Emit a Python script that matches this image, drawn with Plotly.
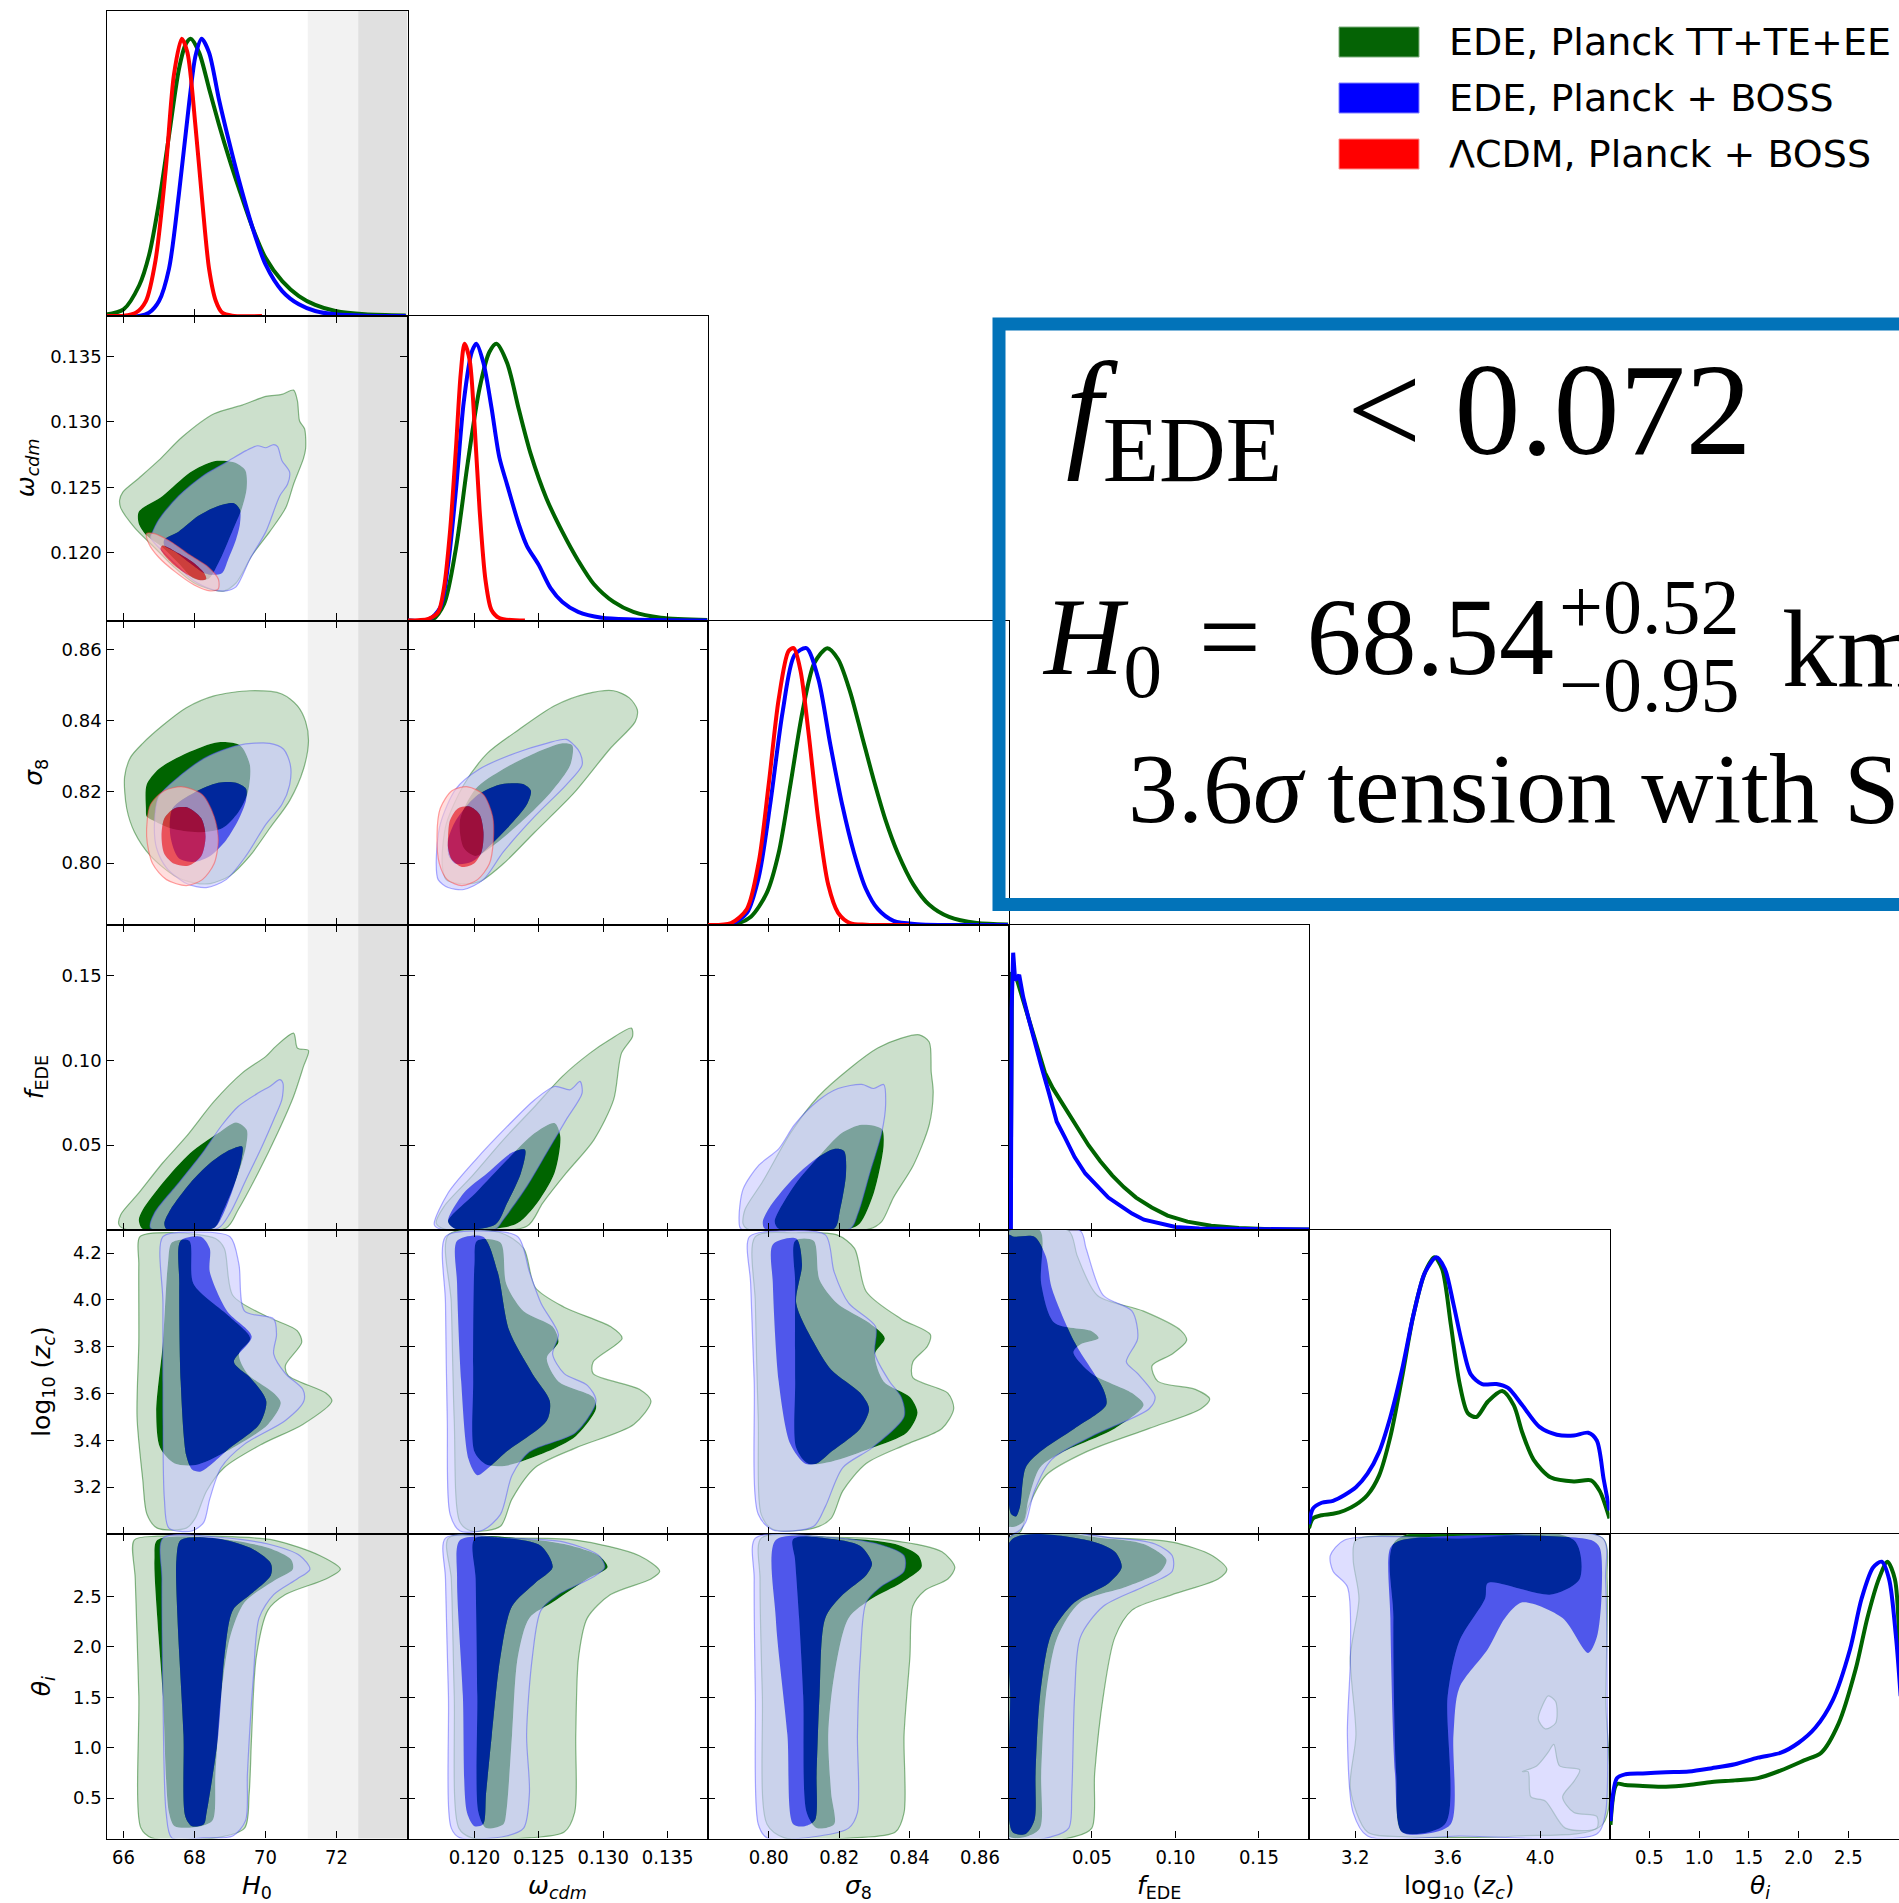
import plotly.graph_objects as go

# ====================== DATA ======================
# ---- 1D marginal posteriors (normalised to peak = 1) ----
H0_green_x = [65.5, 66.0, 66.44, 66.72, 67.0, 67.28, 67.56, 67.75, 67.89, 68.13, 68.41, 68.69, 68.97, 69.25, 69.63, 70.0, 70.47, 70.94, 71.4, 71.97, 72.8, 73.95]
H0_green_p = [0.005, 0.024, 0.11, 0.22, 0.41, 0.65, 0.89, 0.98, 1.0, 0.95, 0.82, 0.69, 0.57, 0.46, 0.32, 0.21, 0.126, 0.072, 0.04, 0.018, 0.006, 0.002]
H0_blue_x = [65.5, 66.44, 66.72, 67.0, 67.28, 67.56, 67.85, 68.03, 68.2, 68.41, 68.69, 68.97, 69.25, 69.63, 70.0, 70.47, 70.94, 71.4, 71.97, 72.8, 73.95]
H0_blue_p = [0.0, 0.0, 0.012, 0.054, 0.17, 0.44, 0.77, 0.94, 1.0, 0.95, 0.78, 0.63, 0.49, 0.32, 0.186, 0.09, 0.042, 0.018, 0.006, 0.001, 0.0]
H0_red_x = [65.5, 66.0, 66.35, 66.63, 66.9, 67.19, 67.42, 67.64, 67.8, 68.03, 68.22, 68.41, 68.6, 68.78, 69.06, 69.9]
H0_red_p = [0.0, 0.001, 0.012, 0.054, 0.2, 0.53, 0.87, 1.0, 0.95, 0.68, 0.41, 0.17, 0.054, 0.012, 0.001, 0.0]

om_green_x = [0.1148, 0.11672, 0.11764, 0.11856, 0.11948, 0.1204, 0.12116, 0.12171, 0.12254, 0.12346, 0.12438, 0.1256, 0.12683, 0.12805, 0.12928, 0.13081, 0.13234, 0.13448, 0.1381]
om_green_p = [0.0, 0.003, 0.06, 0.26, 0.57, 0.84, 0.97, 1.0, 0.93, 0.76, 0.6, 0.44, 0.32, 0.217, 0.131, 0.067, 0.031, 0.01, 0.002]
om_blue_x = [0.1148, 0.11642, 0.11734, 0.11795, 0.11856, 0.11917, 0.11979, 0.12015, 0.1207, 0.12132, 0.12193, 0.12254, 0.12346, 0.12407, 0.125, 0.12591, 0.12683, 0.12805, 0.12989, 0.13234, 0.1381]
om_blue_p = [0.0, 0.003, 0.046, 0.2, 0.47, 0.79, 0.97, 1.0, 0.93, 0.77, 0.59, 0.49, 0.345, 0.27, 0.2, 0.117, 0.067, 0.031, 0.01, 0.004, 0.0]
om_red_x = [0.1148, 0.11642, 0.11718, 0.11764, 0.1181, 0.11856, 0.11893, 0.11923, 0.11963, 0.12003, 0.1204, 0.12086, 0.12132, 0.12193, 0.12392]
om_red_p = [0.0, 0.006, 0.03, 0.12, 0.32, 0.62, 0.89, 1.0, 0.94, 0.69, 0.40, 0.145, 0.038, 0.009, 0.0]

s8_green_x = [0.7826, 0.79043, 0.79493, 0.79944, 0.80281, 0.80619, 0.80957, 0.81294, 0.81666, 0.8197, 0.82307, 0.82645, 0.82982, 0.8332, 0.83658, 0.84108, 0.84558, 0.85121, 0.85909, 0.868]
s8_green_p = [0.0, 0.003, 0.03, 0.116, 0.26, 0.51, 0.77, 0.946, 1.0, 0.96, 0.844, 0.684, 0.524, 0.378, 0.262, 0.146, 0.073, 0.029, 0.007, 0.002]
s8_blue_x = [0.7826, 0.7893, 0.7938, 0.79719, 0.80056, 0.80394, 0.80732, 0.81069, 0.81407, 0.81744, 0.82082, 0.82419, 0.82757, 0.83095, 0.83545, 0.8422, 0.868]
s8_blue_p = [0.0, 0.003, 0.044, 0.175, 0.45, 0.77, 0.975, 1.0, 0.89, 0.655, 0.437, 0.262, 0.131, 0.058, 0.015, 0.003, 0.0]
s8_red_x = [0.7826, 0.7893, 0.7938, 0.79719, 0.8, 0.80281, 0.80563, 0.80709, 0.809, 0.81125, 0.81407, 0.81688, 0.8197, 0.82307, 0.8276, 0.84]
s8_red_p = [0.0, 0.007, 0.058, 0.23, 0.51, 0.815, 0.99, 1.0, 0.92, 0.70, 0.38, 0.146, 0.044, 0.007, 0.001, 0.0]

f_green_x = [0.0012, 0.0021, 0.0052, 0.01, 0.0159, 0.0218, 0.0266, 0.0337, 0.0408, 0.0479, 0.055, 0.0621, 0.0692, 0.0764, 0.0858, 0.0953, 0.1072, 0.1214, 0.138, 0.157, 0.18]
f_green_p = [0.0, 0.93, 0.9, 0.8, 0.683, 0.567, 0.51, 0.443, 0.37, 0.305, 0.247, 0.196, 0.153, 0.116, 0.08, 0.051, 0.029, 0.0145, 0.006, 0.0015, 0.001]
f_blue_x = [0.0014, 0.0019, 0.0028, 0.004, 0.0064, 0.0088, 0.0123, 0.0159, 0.0194, 0.0242, 0.0289, 0.0337, 0.0396, 0.046, 0.0526, 0.0598, 0.0669, 0.074, 0.0811, 0.0906, 0.1001, 0.1143, 0.18]
f_blue_p = [0.0, 0.8, 1.0, 0.9, 0.92, 0.84, 0.756, 0.67, 0.596, 0.494, 0.39, 0.334, 0.262, 0.203, 0.16, 0.116, 0.087, 0.058, 0.036, 0.022, 0.01, 0.004, 0.001]

lz_green_x = [3.0, 3.017, 3.055, 3.104, 3.154, 3.203, 3.253, 3.303, 3.352, 3.402, 3.451, 3.501, 3.543, 3.576, 3.613, 3.65, 3.687, 3.724, 3.774, 3.836, 3.886, 3.923, 3.972, 4.047, 4.146, 4.22, 4.258, 4.3]
lz_green_p = [0.021, 0.056, 0.068, 0.073, 0.085, 0.106, 0.141, 0.211, 0.352, 0.563, 0.789, 0.944, 1.0, 0.958, 0.76, 0.55, 0.437, 0.423, 0.479, 0.517, 0.465, 0.366, 0.268, 0.204, 0.19, 0.194, 0.155, 0.056]
lz_blue_x = [3.0, 3.017, 3.055, 3.104, 3.154, 3.203, 3.253, 3.303, 3.352, 3.402, 3.451, 3.501, 3.551, 3.588, 3.625, 3.662, 3.7, 3.749, 3.811, 3.861, 3.923, 3.997, 4.072, 4.146, 4.208, 4.245, 4.275, 4.3]
lz_blue_p = [0.035, 0.092, 0.113, 0.12, 0.141, 0.169, 0.218, 0.296, 0.423, 0.592, 0.789, 0.944, 1.0, 0.958, 0.831, 0.69, 0.577, 0.542, 0.542, 0.528, 0.465, 0.387, 0.359, 0.356, 0.366, 0.338, 0.197, 0.085]

th_green_x = [0.11, 0.175, 0.262, 0.435, 0.667, 0.898, 1.129, 1.36, 1.592, 1.823, 2.055, 2.228, 2.402, 2.575, 2.691, 2.806, 2.893, 2.968, 3.015]
th_green_p = [0.049, 0.197, 0.193, 0.19, 0.187, 0.193, 0.204, 0.21, 0.218, 0.246, 0.282, 0.31, 0.415, 0.613, 0.796, 0.937, 1.0, 0.937, 0.655]
th_blue_x = [0.11, 0.175, 0.262, 0.435, 0.667, 0.898, 1.129, 1.36, 1.592, 1.823, 1.997, 2.17, 2.344, 2.517, 2.633, 2.749, 2.835, 2.91, 2.98, 3.026]
th_blue_p = [0.063, 0.218, 0.232, 0.235, 0.239, 0.242, 0.254, 0.268, 0.292, 0.31, 0.345, 0.401, 0.5, 0.683, 0.866, 0.979, 1.0, 0.937, 0.725, 0.514]

# ---- 2D credible contours (x, y) : G = EDE Planck, B = EDE Planck+BOSS, R = LCDM ; 2 = 95%, 1 = 68% ----
H0_om_G2 = [(65.89,0.12402),(65.98,0.12463),(66.43,0.12569),(66.99,0.12705),(67.66,0.12886),(68.55,0.13062),(69.34,0.13128),(70.01,0.13195),(70.46,0.1321),(70.79,0.13243),(70.9,0.13159),(70.96,0.13007),(71.1,0.12947),(71.13,0.12796),(71.07,0.1272),(70.79,0.12523),(70.57,0.12342),(70.12,0.1216),(69.62,0.11979),(69.17,0.11767),(68.83,0.11707),(68.55,0.11713),(67.99,0.11767),(67.43,0.11888),(66.87,0.12039),(66.31,0.12191),(65.92,0.12342)]
H0_om_G1 = [(66.43,0.12312),(67.10,0.12433),(67.88,0.12614),(68.55,0.12699),(69.11,0.1269),(69.43,0.12629),(69.47,0.12493),(69.34,0.12342),(69.06,0.1216),(68.67,0.11918),(68.39,0.11797),(67.99,0.11797),(67.55,0.11918),(67.10,0.12039),(66.65,0.1213),(66.43,0.12221)]
H0_om_B2 = [(66.82,0.1216),(66.99,0.12251),(67.55,0.12433),(68.22,0.12584),(68.89,0.1269),(69.45,0.1278),(69.78,0.12817),(70.01,0.12802),(70.23,0.12826),(70.34,0.12811),(70.46,0.12705),(70.68,0.12614),(70.62,0.12523),(70.4,0.12433),(70.01,0.1216),(69.56,0.11949),(69.17,0.11737),(68.89,0.11707),(68.55,0.11713),(67.99,0.11782),(67.43,0.11918),(66.99,0.12039),(66.76,0.12115)]
H0_om_B1 = [(67.15,0.1210),(67.55,0.1216),(68.11,0.12281),(68.67,0.12357),(69.11,0.12378),(69.28,0.12327),(69.28,0.12221),(69.17,0.121),(68.95,0.11949),(68.78,0.11843),(68.55,0.11828),(68.27,0.11843),(67.88,0.11918),(67.43,0.12009),(67.15,0.12054)]
H0_om_R2 = [(66.65,0.12145),(66.87,0.12145),(67.32,0.12085),(67.88,0.11979),(68.39,0.11888),(68.67,0.11797),(68.67,0.11722),(68.44,0.11707),(67.99,0.11752),(67.43,0.11858),(66.99,0.11964),(66.71,0.1207)]
H0_om_R1 = [(67.1,0.12054),(67.55,0.11994),(67.99,0.11918),(68.27,0.11843),(68.33,0.11797),(68.16,0.11788),(67.82,0.11828),(67.43,0.11903),(67.15,0.11979),(67.04,0.1203)]

H0_s8_G2 = [(66.03,0.82418),(66.2,0.82973),(66.54,0.83361),(67.1,0.8386),(67.77,0.84359),(68.55,0.84692),(69.56,0.84837),(70.46,0.84748),(70.9,0.84415),(71.13,0.83971),(71.21,0.83417),(71.07,0.8264),(70.68,0.81753),(70.12,0.80976),(69.56,0.802),(69.0,0.79645),(68.44,0.79423),(67.99,0.79445),(67.43,0.79645),(66.76,0.802),(66.31,0.80865),(66.09,0.81531)]
H0_s8_G1 = [(66.63,0.81531),(66.65,0.82196),(66.99,0.8264),(67.77,0.83084),(68.67,0.83394),(69.28,0.83306),(69.56,0.82751),(69.5,0.81975),(69.23,0.8142),(68.78,0.80976),(68.11,0.80865),(67.32,0.80976),(66.82,0.81198),(66.65,0.81309)]
H0_s8_B2 = [(66.87,0.81087),(66.99,0.81864),(67.55,0.82418),(68.33,0.82973),(69.23,0.83306),(70.12,0.83361),(70.51,0.83195),(70.7,0.82751),(70.68,0.82196),(70.46,0.81642),(70.01,0.81087),(69.45,0.802),(68.89,0.79534),(68.33,0.79312),(67.77,0.79423),(67.21,0.79867),(66.93,0.80422)]
H0_s8_B1 = [(67.38,0.81531),(67.99,0.81975),(68.67,0.82252),(69.17,0.82252),(69.45,0.82085),(69.45,0.81753),(69.23,0.81198),(68.89,0.80643),(68.44,0.802),(67.99,0.80033),(67.55,0.80144),(67.32,0.80754)]
H0_s8_R2 = [(66.65,0.80754),(66.76,0.81642),(67.15,0.8203),(67.66,0.82141),(68.22,0.81919),(68.55,0.81309),(68.67,0.80643),(68.55,0.79978),(68.22,0.79534),(67.77,0.79368),(67.21,0.79534),(66.82,0.79978)]
H0_s8_R1 = [(67.07,0.80754),(67.15,0.81254),(67.43,0.81531),(67.82,0.81553),(68.19,0.81254),(68.31,0.80754),(68.19,0.802),(67.82,0.79922),(67.43,0.79978),(67.15,0.80255)]

om_s8_G2 = [(0.11749,0.79978),(0.1178,0.81087),(0.11917,0.82196),(0.12101,0.83084),(0.12346,0.83749),(0.12622,0.84415),(0.12866,0.84748),(0.13081,0.84837),(0.13203,0.84637),(0.13265,0.84304),(0.13249,0.83971),(0.1305,0.83195),(0.12775,0.81975),(0.12468,0.80865),(0.12224,0.79978),(0.1204,0.79479),(0.11887,0.79423),(0.1178,0.79534)]
om_s8_G1 = [(0.11887,0.81198),(0.12009,0.82085),(0.12224,0.8264),(0.12468,0.83084),(0.12683,0.83361),(0.1276,0.83306),(0.12744,0.82751),(0.12591,0.81975),(0.12377,0.81198),(0.12162,0.80532),(0.12009,0.802),(0.11917,0.80422)]
om_s8_B2 = [(0.11703,0.79978),(0.11734,0.81087),(0.11856,0.82085),(0.1204,0.8264),(0.12315,0.83084),(0.1256,0.83361),(0.12713,0.83472),(0.12775,0.83306),(0.12821,0.83084),(0.12836,0.82751),(0.12713,0.82196),(0.12468,0.81309),(0.12224,0.80311),(0.1207,0.79534),(0.11917,0.79257),(0.11795,0.79312),(0.11718,0.79534)]
om_s8_B1 = [(0.11795,0.80643),(0.11856,0.81198),(0.12009,0.81864),(0.12193,0.82196),(0.12377,0.82218),(0.12438,0.8203),(0.12407,0.81642),(0.12254,0.80976),(0.12101,0.80422),(0.11979,0.80033),(0.11856,0.79978),(0.11801,0.802)]
om_s8_R2 = [(0.11709,0.80754),(0.11734,0.81531),(0.11825,0.8203),(0.11948,0.82141),(0.1207,0.81919),(0.12141,0.81309),(0.12147,0.80643),(0.12116,0.79978),(0.12024,0.79534),(0.11902,0.79368),(0.11789,0.79534),(0.11728,0.79978)]
om_s8_R1 = [(0.11795,0.80754),(0.1181,0.81198),(0.11871,0.81531),(0.11963,0.81586),(0.1204,0.81364),(0.1207,0.80865),(0.12055,0.8031),(0.11994,0.79978),(0.11902,0.79889),(0.11825,0.80089),(0.11795,0.80422)]

H0_f_G2 = [(65.87,0.003),(65.92,0.0089),(66.43,0.0217),(67.1,0.0394),(67.77,0.0551),(68.55,0.0758),(69.34,0.0925),(70.01,0.1024),(70.29,0.1083),(70.79,0.1161),(70.9,0.1073),(71.21,0.1059),(71.07,0.0965),(70.79,0.0787),(70.34,0.0571),(69.79,0.0335),(69.23,0.0118),(68.89,0.001),(66.03,0.0004)]
H0_f_G1 = [(66.43,0.0059),(66.54,0.0118),(67.1,0.0276),(67.88,0.0453),(68.67,0.0571),(69.17,0.0634),(69.47,0.0591),(69.45,0.0492),(69.17,0.0295),(68.78,0.0098),(68.55,0.001),(66.54,0.0004)]
H0_f_B2 = [(66.76,0.001),(66.87,0.0098),(67.55,0.0276),(68.22,0.0453),(68.78,0.062),(69.23,0.0728),(69.79,0.0807),(70.12,0.0846),(70.4,0.0886),(70.49,0.0866),(70.46,0.0768),(70.23,0.065),(69.9,0.0492),(69.45,0.0295),(69.0,0.0098),(68.67,0.001)]
H0_f_B1 = [(67.15,0.0039),(67.32,0.0118),(67.88,0.0276),(68.44,0.0394),(69.0,0.0472),(69.34,0.0492),(69.32,0.0413),(69.11,0.0256),(68.78,0.0079),(68.55,0.001),(67.21,0.0004)]

om_f_G2 = [(0.11703,0.0039),(0.11764,0.0138),(0.11979,0.0315),(0.12224,0.0531),(0.12468,0.0728),(0.12683,0.0906),(0.12897,0.1043),(0.1305,0.1122),(0.13219,0.1191),(0.13228,0.1142),(0.13142,0.1043),(0.13081,0.0768),(0.12928,0.0531),(0.12713,0.0335),(0.1253,0.0157),(0.12407,0.002),(0.11764,0.0004)]
om_f_G1 = [(0.11795,0.0049),(0.12009,0.0217),(0.12254,0.0413),(0.12468,0.0571),(0.12622,0.063),(0.12667,0.0551),(0.12622,0.0335),(0.12468,0.0138),(0.12315,0.003),(0.11856,0.0004)]
om_f_B2 = [(0.11688,0.003),(0.11795,0.0217),(0.12009,0.0413),(0.12254,0.061),(0.12468,0.0768),(0.12622,0.0846),(0.12744,0.0827),(0.1282,0.0876),(0.12836,0.0807),(0.12713,0.065),(0.1256,0.0453),(0.12407,0.0256),(0.12224,0.0059),(0.12162,0.0004),(0.11734,0.0004)]
om_f_B1 = [(0.11795,0.0049),(0.11917,0.0217),(0.12101,0.0335),(0.12285,0.0453),(0.12392,0.0472),(0.12361,0.0335),(0.12254,0.0157),(0.12162,0.003),(0.11856,0.0004)]

s8_f_G2 = [(0.79268,0.0036),(0.79325,0.0119),(0.79831,0.0286),(0.80619,0.0572),(0.81407,0.0787),(0.82307,0.0954),(0.83095,0.1073),(0.8377,0.1132),(0.84277,0.1151),(0.84558,0.1109),(0.84615,0.093),(0.84671,0.0811),(0.84558,0.062),(0.84108,0.0381),(0.83545,0.0191),(0.83208,0.0048),(0.8287,0.0005),(0.79381,0.0005)]
s8_f_G1 = [(0.80169,0.0048),(0.80732,0.0262),(0.81407,0.0429),(0.82082,0.0572),(0.82645,0.062),(0.83208,0.0596),(0.83264,0.0501),(0.82982,0.0215),(0.82589,0.0036),(0.82307,0.0005),(0.80281,0.0005)]
s8_f_B2 = [(0.79156,0.006),(0.79268,0.0238),(0.79719,0.0381),(0.80281,0.0477),(0.80732,0.062),(0.81407,0.0763),(0.8197,0.0834),(0.82645,0.0858),(0.82982,0.0834),(0.83264,0.0858),(0.8332,0.0739),(0.83208,0.0572),(0.8287,0.0334),(0.82532,0.0095),(0.82307,0.0005),(0.79212,0.0005)]
s8_f_B1 = [(0.79831,0.0048),(0.80056,0.0143),(0.80732,0.031),(0.81407,0.0429),(0.81857,0.0477),(0.82138,0.0465),(0.82195,0.0334),(0.82026,0.0119),(0.81857,0.0005),(0.79887,0.0005)]

H0_lz_G2 = [(66.46,4.27),(67.44,4.287),(68.59,4.262),(68.84,4.22),(69.08,4.019),(70.07,3.927),(70.89,3.869),(71.02,3.819),(70.56,3.719),(70.64,3.677),(71.7,3.602),(71.87,3.568),(71.05,3.468),(69.9,3.384),(68.84,3.284),(68.34,3.184),(68.02,3.067),(67.77,3.025),(66.95,3.025),(66.66,3.084),(66.54,3.234),(66.38,3.501),(66.43,3.819),(66.43,4.153)]
H0_lz_G1 = [(67.36,4.245),(67.85,4.253),(67.97,4.069),(69.0,3.927),(69.57,3.836),(69.25,3.769),(69.49,3.685),(70.23,3.602),(70.43,3.56),(70.07,3.468),(69.08,3.368),(68.10,3.297),(67.44,3.301),(67.03,3.368),(66.92,3.518),(67.11,3.819),(67.25,4.153)]
H0_lz_B2 = [(67.11,4.27),(67.93,4.29),(69.0,4.27),(69.25,4.153),(69.41,3.952),(70.23,3.919),(70.31,3.852),(70.23,3.769),(70.56,3.685),(71.05,3.618),(71.08,3.568),(70.56,3.485),(69.41,3.384),(68.75,3.284),(68.43,3.15),(68.26,3.05),(67.93,3.013),(67.28,3.025),(67.15,3.15),(67.11,3.485),(67.11,3.986)]
H0_lz_B1 = [(67.61,4.253),(68.18,4.27),(68.43,4.22),(68.43,4.12),(68.92,3.952),(69.61,3.844),(69.11,3.735),(69.57,3.668),(70.02,3.568),(69.82,3.468),(69.0,3.368),(68.18,3.267),(67.93,3.276),(67.77,3.334),(67.61,3.652),(67.57,4.069)]

om_lz_G2 = [(0.11798,4.278),(0.12202,4.287),(0.12382,4.22),(0.12472,4.053),(0.12697,3.969),(0.13057,3.886),(0.13147,3.836),(0.12922,3.735),(0.12922,3.685),(0.13281,3.618),(0.13371,3.568),(0.13237,3.468),(0.12787,3.368),(0.12472,3.284),(0.12292,3.15),(0.12202,3.033),(0.11978,3.013),(0.11888,3.05),(0.11843,3.485),(0.1182,3.986)]
om_lz_G1 = [(0.1202,4.253),(0.12202,4.245),(0.12247,4.069),(0.12382,3.952),(0.12607,3.886),(0.12652,3.819),(0.12562,3.752),(0.12652,3.652),(0.12922,3.585),(0.12944,3.535),(0.12787,3.418),(0.12562,3.351),(0.12247,3.292),(0.1209,3.297),(0.1200,3.351),(0.1199,3.652),(0.1200,4.153)]
om_lz_B2 = [(0.11775,4.27),(0.12022,4.295),(0.12337,4.27),(0.12427,4.12),(0.12517,3.986),(0.12652,3.852),(0.12607,3.769),(0.12697,3.685),(0.12877,3.635),(0.12944,3.568),(0.12787,3.434),(0.12427,3.351),(0.12292,3.251),(0.12202,3.084),(0.12067,3.017),(0.11888,3.013),(0.11811,3.084),(0.11789,3.485),(0.11775,3.986)]
om_lz_B1 = [(0.11865,4.253),(0.12067,4.27),(0.1218,4.12),(0.1227,3.869),(0.1245,3.685),(0.12585,3.568),(0.12562,3.485),(0.12247,3.351),(0.12112,3.284),(0.12022,3.251),(0.11955,3.318),(0.11897,3.652),(0.11865,4.069)]

s8_lz_G2 = [(0.79619,4.27),(0.80779,4.287),(0.81939,4.278),(0.82436,4.22),(0.82767,4.036),(0.83761,3.919),(0.8459,3.852),(0.84507,3.802),(0.84093,3.735),(0.84093,3.668),(0.85087,3.602),(0.85253,3.535),(0.84921,3.451),(0.83927,3.384),(0.82767,3.301),(0.82104,3.184),(0.81773,3.067),(0.81276,3.025),(0.80116,3.02),(0.79785,3.084),(0.79702,3.485),(0.79619,3.986)]
s8_lz_G1 = [(0.8075,4.253),(0.81276,4.253),(0.81442,4.086),(0.81939,3.986),(0.8285,3.902),(0.83297,3.836),(0.83016,3.769),(0.83264,3.652),(0.8401,3.585),(0.84225,3.518),(0.83927,3.434),(0.82933,3.368),(0.81773,3.309),(0.8111,3.301),(0.80779,3.368),(0.8075,3.652),(0.8075,4.069)]
s8_lz_B2 = [(0.79453,4.27),(0.80447,4.295),(0.81607,4.278),(0.81856,4.12),(0.8227,3.986),(0.83033,3.886),(0.83016,3.769),(0.8343,3.652),(0.83761,3.585),(0.83844,3.501),(0.82933,3.368),(0.82104,3.284),(0.81607,3.117),(0.81276,3.033),(0.80116,3.017),(0.79702,3.084),(0.79586,3.652),(0.79486,4.069)]
s8_lz_B1 = [(0.80116,4.237),(0.80779,4.262),(0.80944,4.153),(0.80779,3.986),(0.81276,3.819),(0.81773,3.702),(0.82602,3.602),(0.8285,3.535),(0.82602,3.451),(0.81773,3.351),(0.81359,3.301),(0.81027,3.301),(0.80613,3.384),(0.80282,3.652),(0.80116,4.069)]

f_lz_G2 = [(0.0,4.292),(0.0361,4.295),(0.0413,4.186),(0.0533,4.019),(0.0809,3.952),(0.1033,3.869),(0.1067,3.827),(0.0981,3.769),(0.086,3.719),(0.0895,3.652),(0.1119,3.618),(0.1205,3.577),(0.1153,3.535),(0.0843,3.451),(0.0465,3.351),(0.0224,3.251),(0.012,3.117),(0.0069,3.008),(0.0,3.003)]
f_lz_G1 = [(0.0,4.295),(0.0189,4.295),(0.0196,4.069),(0.0275,3.902),(0.0499,3.866),(0.054,3.836),(0.043,3.81),(0.0389,3.777),(0.0499,3.685),(0.074,3.602),(0.0809,3.551),(0.0637,3.451),(0.0327,3.351),(0.0189,3.284),(0.012,3.15),(0.0086,3.05),(0.0,3.033)]
f_lz_B2 = [(0.0,4.292),(0.043,4.295),(0.0465,4.22),(0.0568,4.019),(0.074,3.952),(0.0774,3.836),(0.0706,3.735),(0.0774,3.685),(0.0878,3.585),(0.0843,3.535),(0.0499,3.418),(0.0258,3.318),(0.0155,3.184),(0.0103,3.05),(0.0052,3.008),(0.0,3.003)]
f_lz_B1 = [(0.0,4.278),(0.0034,4.27),(0.0155,4.27),(0.0224,4.186),(0.0258,4.053),(0.0396,3.819),(0.0568,3.618),(0.0585,3.551),(0.0396,3.451),(0.0189,3.351),(0.0103,3.284),(0.0069,3.117),(0.0045,3.075),(0.0017,3.084),(0.0,3.15)]

H0_th_G2 = [(66.3,3.06),(66.95,3.098),(68.59,3.098),(70.23,3.06),(71.54,2.905),(72.11,2.77),(71.7,2.674),(70.56,2.519),(70.07,2.365),(69.74,1.902),(69.61,1.129),(69.54,0.55),(69.41,0.203),(68.59,0.106),(66.79,0.106),(66.49,0.203),(66.43,1.515),(66.33,2.674)]
H0_th_G1 = [(66.95,3.06),(68.59,3.079),(70.07,2.983),(70.72,2.867),(70.77,2.77),(70.23,2.654),(69.41,2.442),(69.0,2.095),(68.75,1.515),(68.59,0.743),(68.51,0.28),(68.18,0.222),(67.44,0.222),(67.28,0.357),(67.11,1.515),(66.95,2.288),(66.87,2.867)]
H0_th_B2 = [(67.11,3.079),(68.59,3.09),(70.07,3.021),(70.97,2.905),(71.25,2.77),(70.89,2.674),(70.23,2.519),(69.82,2.288),(69.66,1.708),(69.49,0.743),(69.44,0.28),(69.08,0.125),(68.26,0.106),(67.36,0.106),(67.2,0.357),(67.11,1.515),(67.08,2.674)]
H0_th_B1 = [(67.61,3.06),(68.59,3.079),(69.57,2.983),(70.15,2.828),(70.15,2.712),(69.57,2.519),(69.08,2.365),(68.84,1.902),(68.67,1.129),(68.34,0.357),(68.26,0.241),(67.93,0.222),(67.74,0.319),(67.69,1.129),(67.52,2.288),(67.49,2.867)]

om_th_G2 = [(0.11798,3.079),(0.12247,3.079),(0.12787,3.06),(0.13281,2.905),(0.13439,2.751),(0.13371,2.674),(0.13057,2.519),(0.12877,2.288),(0.12809,1.902),(0.12787,1.129),(0.12778,0.357),(0.12697,0.164),(0.12427,0.106),(0.11978,0.106),(0.11879,0.203),(0.11843,1.515),(0.1182,2.674)]
om_th_G1 = [(0.12,3.071),(0.12337,3.079),(0.12697,3.021),(0.12967,2.905),(0.13034,2.79),(0.12877,2.674),(0.12607,2.442),(0.12427,2.288),(0.12337,1.902),(0.12292,1.129),(0.12247,0.357),(0.12225,0.241),(0.1209,0.203),(0.12031,0.357),(0.12022,1.515),(0.12009,2.674)]
om_th_B2 = [(0.11775,3.079),(0.12247,3.079),(0.12697,3.04),(0.12967,2.905),(0.13012,2.79),(0.12922,2.693),(0.12652,2.519),(0.12517,2.365),(0.1245,1.902),(0.12405,1.129),(0.12427,0.55),(0.12382,0.203),(0.12247,0.125),(0.11888,0.106),(0.1182,0.203),(0.11798,1.515),(0.11775,2.674)]
om_th_B1 = [(0.11888,3.06),(0.12247,3.079),(0.12517,3.002),(0.12607,2.79),(0.12472,2.635),(0.12292,2.403),(0.12202,1.902),(0.12135,1.129),(0.1209,0.55),(0.12067,0.241),(0.12,0.222),(0.11942,0.357),(0.1191,1.515),(0.11865,2.674)]

s8_th_G2 = [(0.79785,3.079),(0.81607,3.09),(0.8343,3.06),(0.84921,2.944),(0.85286,2.79),(0.85087,2.674),(0.84424,2.558),(0.84093,2.403),(0.8401,1.902),(0.83844,1.129),(0.83844,0.357),(0.83596,0.164),(0.82436,0.106),(0.80447,0.106),(0.7995,0.241),(0.79818,1.515),(0.79751,2.674)]
s8_th_G1 = [(0.80696,3.071),(0.82104,3.079),(0.83595,3.021),(0.84258,2.905),(0.84341,2.79),(0.83761,2.635),(0.82933,2.481),(0.8227,2.288),(0.81856,1.708),(0.8169,1.129),(0.81773,0.55),(0.81856,0.241),(0.81359,0.203),(0.81077,0.357),(0.80978,1.515),(0.80862,2.288),(0.80746,2.867)]
s8_th_B2 = [(0.79619,3.079),(0.81607,3.09),(0.83099,3.021),(0.83844,2.905),(0.83844,2.751),(0.83181,2.597),(0.82767,2.442),(0.82602,1.902),(0.82519,1.129),(0.82519,0.357),(0.8227,0.203),(0.81442,0.125),(0.7995,0.106),(0.79702,0.241),(0.79619,1.515),(0.79586,2.674)]
s8_th_B1 = [(0.80199,3.06),(0.81607,3.079),(0.82602,3.002),(0.82933,2.828),(0.82767,2.712),(0.82104,2.519),(0.81607,2.288),(0.81442,1.515),(0.81359,0.743),(0.81309,0.28),(0.81027,0.222),(0.80696,0.241),(0.8053,1.129),(0.80199,2.288)]

f_th_G2 = [(0.0,3.079),(0.0637,3.079),(0.0981,3.04),(0.1222,2.905),(0.1308,2.77),(0.1256,2.674),(0.0981,2.519),(0.074,2.365),(0.0637,2.095),(0.0568,1.515),(0.0516,0.743),(0.0499,0.203),(0.0396,0.118),(0.0,0.106)]
f_th_G1 = [(0.0,3.079),(0.0568,3.079),(0.0809,3.021),(0.0946,2.867),(0.0912,2.751),(0.0706,2.597),(0.043,2.442),(0.0293,2.095),(0.0224,1.515),(0.0196,0.743),(0.0189,0.203),(0.012,0.125),(0.0,0.125)]
f_th_B2 = [(0.0,3.079),(0.0637,3.079),(0.0878,3.021),(0.0981,2.905),(0.0981,2.751),(0.0809,2.597),(0.0568,2.403),(0.043,2.095),(0.0396,1.515),(0.0379,0.55),(0.0361,0.203),(0.0258,0.118),(0.0,0.106)]
f_th_B1 = [(0.0017,3.06),(0.0465,3.06),(0.0637,2.944),(0.0678,2.79),(0.0602,2.635),(0.0396,2.442),(0.0258,2.133),(0.0189,1.515),(0.0162,0.743),(0.0155,0.28),(0.0103,0.145),(0.0024,0.164),(0.001,1.515)]

lz_th_G2 = [(3.203,3.06),(3.65,3.079),(4.27,3.079),(4.29,2.674),(4.283,1.515),(4.27,0.241),(3.898,0.125),(3.402,0.118),(3.253,0.164),(3.179,0.589),(3.203,1.129),(3.179,1.902),(3.216,2.481),(3.191,2.867)]
lz_th_G2_hole_a = [(4.035,1.515),(4.067,1.458),(4.067,1.245),(4.022,1.187),(3.992,1.284),(4.01,1.419)]
lz_th_G2_hole_b = [(4.059,1.033),(4.084,0.82),(4.171,0.782),(4.146,0.666),(4.097,0.512),(4.146,0.357),(4.245,0.319),(4.245,0.203),(4.109,0.203),(4.022,0.473),(3.96,0.512),(3.948,0.763),(3.923,0.763),(3.985,0.82),(4.035,0.956)]
lz_th_G1 = [(3.377,3.06),(4.146,3.06),(4.171,2.674),(4.047,2.519),(3.774,2.635),(3.762,2.481),(3.65,2.056),(3.6,1.515),(3.588,0.241),(3.402,0.164),(3.377,0.743),(3.365,2.288)]
lz_th_B2 = [(3.154,3.06),(3.092,2.905),(3.104,2.751),(3.166,2.597),(3.179,1.902),(3.166,1.129),(3.191,0.357),(3.253,0.125),(3.65,0.125),(4.245,0.145),(4.283,0.357),(4.29,1.515),(4.283,2.674),(4.27,3.079),(3.65,3.079)]
lz_th_B1 = [(3.352,2.983),(3.402,3.06),(4.221,3.06),(4.258,2.983),(4.265,2.481),(4.245,2.095),(4.208,1.941),(4.097,2.288),(3.923,2.442),(3.848,2.288),(3.774,1.979),(3.65,1.593),(3.625,1.129),(3.613,0.241),(3.501,0.145),(3.402,0.164),(3.372,0.743),(3.352,2.288)]

# ---- axes, labels, reference band ----
PARAMS = ["H0", "om", "s8", "f", "lz", "th"]
RANGES = {"H0": [65.52, 74.0], "om": [0.1148, 0.1381], "s8": [0.7826, 0.8681],
          "f": [0.0, 0.18], "lz": [3.0, 4.3], "th": [0.1, 3.12]}
XTICKS = {"H0": [66, 68, 70, 72], "om": [0.120, 0.125, 0.130, 0.135], "s8": [0.80, 0.82, 0.84, 0.86],
          "f": [0.05, 0.10, 0.15], "lz": [3.2, 3.6, 4.0], "th": [0.5, 1.0, 1.5, 2.0, 2.5]}
YTICKS = {"om": [0.120, 0.125, 0.130, 0.135], "s8": [0.80, 0.82, 0.84, 0.86], "f": [0.05, 0.10, 0.15],
          "lz": [3.2, 3.4, 3.6, 3.8, 4.0, 4.2], "th": [0.5, 1.0, 1.5, 2.0, 2.5]}
FMT = {"H0": ".0f", "om": ".3f", "s8": ".2f", "f": ".2f", "lz": ".1f", "th": ".1f"}
XTITLES = {"H0": "<i>H</i><sub>0</sub>", "om": "<i>ω</i><sub><i>cdm</i></sub>", "s8": "<i>σ</i><sub>8</sub>",
           "f": "<i>f</i><sub>EDE</sub>", "lz": "log<sub>10</sub> (<i>z</i><sub><i>c</i></sub>)", "th": "<i>θ</i><sub><i>i</i></sub>"}
SHOES_H0, SHOES_ERR = 74.03, 1.42
LEGEND_LABELS = ["EDE, Planck TT+TE+EE", "EDE, Planck + BOSS", "ΛCDM, Planck + BOSS"]
BOX_F_LABEL = "<i>f</i><sub>EDE</sub>"
BOX_F_VALUE = "&lt; 0.072"
BOX_H0 = "<i>H</i><sub>0</sub> \u200a=\u2006 68.54"
BOX_H0_UP, BOX_H0_DN = "+0.52", "−0.95"
BOX_H0_UNIT = "km s<sup>−1</sup> Mpc<sup>−1</sup>"
BOX_LINE3 = "3.6<i>σ</i> tension with SH<sub>0</sub>ES"

PDFS = {
    "H0": [("green", H0_green_x, H0_green_p), ("blue", H0_blue_x, H0_blue_p), ("red", H0_red_x, H0_red_p)],
    "om": [("green", om_green_x, om_green_p), ("blue", om_blue_x, om_blue_p), ("red", om_red_x, om_red_p)],
    "s8": [("green", s8_green_x, s8_green_p), ("blue", s8_blue_x, s8_blue_p), ("red", s8_red_x, s8_red_p)],
    "f": [("green", f_green_x, f_green_p), ("blue", f_blue_x, f_blue_p)],
    "lz": [("green", lz_green_x, lz_green_p), ("blue", lz_blue_x, lz_blue_p)],
    "th": [("green", th_green_x, th_green_p), ("blue", th_blue_x, th_blue_p)],
}
CONTOURS = {
    ("H0", "om"): [("green", H0_om_G2, H0_om_G1, []), ("blue", H0_om_B2, H0_om_B1, []), ("red", H0_om_R2, H0_om_R1, [])],
    ("H0", "s8"): [("green", H0_s8_G2, H0_s8_G1, []), ("blue", H0_s8_B2, H0_s8_B1, []), ("red", H0_s8_R2, H0_s8_R1, [])],
    ("om", "s8"): [("green", om_s8_G2, om_s8_G1, []), ("blue", om_s8_B2, om_s8_B1, []), ("red", om_s8_R2, om_s8_R1, [])],
    ("H0", "f"): [("green", H0_f_G2, H0_f_G1, []), ("blue", H0_f_B2, H0_f_B1, [])],
    ("om", "f"): [("green", om_f_G2, om_f_G1, []), ("blue", om_f_B2, om_f_B1, [])],
    ("s8", "f"): [("green", s8_f_G2, s8_f_G1, []), ("blue", s8_f_B2, s8_f_B1, [])],
    ("H0", "lz"): [("green", H0_lz_G2, H0_lz_G1, []), ("blue", H0_lz_B2, H0_lz_B1, [])],
    ("om", "lz"): [("green", om_lz_G2, om_lz_G1, []), ("blue", om_lz_B2, om_lz_B1, [])],
    ("s8", "lz"): [("green", s8_lz_G2, s8_lz_G1, []), ("blue", s8_lz_B2, s8_lz_B1, [])],
    ("f", "lz"): [("green", f_lz_G2, f_lz_G1, []), ("blue", f_lz_B2, f_lz_B1, [])],
    ("H0", "th"): [("green", H0_th_G2, H0_th_G1, []), ("blue", H0_th_B2, H0_th_B1, [])],
    ("om", "th"): [("green", om_th_G2, om_th_G1, []), ("blue", om_th_B2, om_th_B1, [])],
    ("s8", "th"): [("green", s8_th_G2, s8_th_G1, []), ("blue", s8_th_B2, s8_th_B1, [])],
    ("f", "th"): [("green", f_th_G2, f_th_G1, []), ("blue", f_th_B2, f_th_B1, [])],
    ("lz", "th"): [("green", lz_th_G2, lz_th_G1, [lz_th_G2_hole_a, lz_th_G2_hole_b]), ("blue", lz_th_B2, lz_th_B1, [])],
}

# ====================== STYLE ======================
STYLE = {
    "green": dict(line="#006400", c2="rgb(204,224,204)", c1="rgb(0,100,0)", edge="rgba(0,100,0,0.45)"),
    "blue": dict(line="#0000FF", c2="rgba(201,201,255,0.61)", c1="rgba(0,0,255,0.61)", edge="rgba(70,70,255,0.45)"),
    "red": dict(line="#FF0000", c2="rgba(255,201,201,0.61)", c1="rgba(255,0,0,0.61)", edge="rgba(255,70,70,0.5)"),
}
LEGEND_SWATCH = [("#056305", "#7fae7f"), ("#0000FF", "#8080ff"), ("#FF0000", "#ff9090")]

W, H = 1899, 1903
COL_EDGES = [106.5, 407.5, 707.5, 1008.5, 1309.0, 1609.5, 1910.0]
ROW_EDGES = [11.0, 316.0, 620.5, 925.0, 1229.7, 1534.0, 1838.5]
SANS = "DejaVu Sans"
XTICKFONT = dict(family="DejaVu Sans Condensed, Liberation Sans Narrow, DejaVu Sans", size=20, color="black")
YTICKFONT = dict(family=SANS, size=18, color="black")
SERIF = "Liberation Serif, Times New Roman, serif"


def dom_x(j):
    return [COL_EDGES[j] / W, min(COL_EDGES[j + 1], W) / W]


def dom_y(i):
    return [1 - ROW_EDGES[i + 1] / H, 1 - ROW_EDGES[i] / H]


def vis_range(j, p):
    lo, hi = RANGES[p]
    full = COL_EDGES[j + 1] - COL_EDGES[j]
    vis = min(COL_EDGES[j + 1], W) - COL_EDGES[j]
    return [lo, lo + (hi - lo) * vis / full]


def area(pts):
    s = 0.0
    for (x1, y1), (x2, y2) in zip(pts, pts[1:] + pts[:1]):
        s += x1 * y2 - x2 * y1
    return s


def ring_xy(outer, holes):
    xs = [p[0] for p in outer] + [outer[0][0]]
    ys = [p[1] for p in outer] + [outer[0][1]]
    so = area(outer)
    for h in holes:
        hp = h if area(h) * so < 0 else h[::-1]
        xs += [None] + [p[0] for p in hp] + [hp[0][0]]
        ys += [None] + [p[1] for p in hp] + [hp[0][1]]
    return xs, ys


fig = go.Figure()
layout = dict(width=W, height=H, margin=dict(l=0, r=0, t=0, b=0), plot_bgcolor="white",
              paper_bgcolor="white", showlegend=False, shapes=[], annotations=[])

axis_id = {}
k = 0
for i in range(6):
    for j in range(i + 1):
        k += 1
        axis_id[(i, j)] = k


def refs(k):
    return ("x" if k == 1 else f"x{k}"), ("y" if k == 1 else f"y{k}")


common = dict(showline=True, linecolor="black", linewidth=1.4, showgrid=False, zeroline=False,
              tickcolor="black", tickwidth=1.4, ticklen=7)

for (i, j), k in axis_id.items():
    px, py = PARAMS[j], PARAMS[i]
    xr, yr = refs(k)
    diag = i == j
    xa = dict(common, domain=dom_x(j), range=vis_range(j, px), anchor=yr, tickvals=XTICKS[px],
              tickformat=FMT[px], showticklabels=(i == 5), ticks="inside",
              mirror=(True if diag else "allticks"), tickfont=XTICKFONT)
    if diag:
        ya = dict(common, domain=dom_y(i), range=[0, 1.1], anchor=xr, showticklabels=False, ticks="",
                  mirror=(j != 5))
    else:
        ya = dict(common, domain=dom_y(i), range=RANGES[py], anchor=xr, tickvals=YTICKS[py],
                  tickformat=FMT[py], showticklabels=(j == 0), ticks="inside", mirror="allticks",
                  tickfont=YTICKFONT)
    layout["xaxis" if k == 1 else f"xaxis{k}"] = xa
    layout["yaxis" if k == 1 else f"yaxis{k}"] = ya

    if diag:
        for name, xs, ps in PDFS[px]:
            shape = "linear" if px == "f" else "spline"
            fig.add_trace(go.Scatter(x=xs, y=ps, mode="lines", xaxis=xr, yaxis=yr, hoverinfo="skip",
                                     line=dict(color=STYLE[name]["line"], width=4, shape=shape, smoothing=0.8)))
    else:
        for name, c2, c1, holes in CONTOURS[(px, py)]:
            st = STYLE[name]
            rx, ry = ring_xy(c2, [c1] + holes)
            fig.add_trace(go.Scatter(x=rx, y=ry, mode="lines", fill="toself", fillcolor=st["c2"],
                                     line=dict(width=0, shape="spline", smoothing=0.8),
                                     xaxis=xr, yaxis=yr, hoverinfo="skip"))
            ix, iy = ring_xy(c1, [])
            fig.add_trace(go.Scatter(x=ix, y=iy, mode="lines", fill="toself", fillcolor=st["c1"],
                                     line=dict(width=0, shape="spline", smoothing=0.8),
                                     xaxis=xr, yaxis=yr, hoverinfo="skip"))
            ox, oy = ring_xy(c2, holes)
            fig.add_trace(go.Scatter(x=ox, y=oy, mode="lines",
                                     line=dict(width=1.2, color=st["edge"], shape="spline", smoothing=0.8),
                                     xaxis=xr, yaxis=yr, hoverinfo="skip"))

# SH0ES bands in the H0 column
lo_h, hi_h = RANGES["H0"]
for i in range(6):
    k = axis_id[(i, 0)]
    xr, yr = refs(k)
    for a, b, col in [(SHOES_H0 - 2 * SHOES_ERR, SHOES_H0 - SHOES_ERR, "#F2F2F2"),
                      (SHOES_H0 - SHOES_ERR, SHOES_H0 + SHOES_ERR, "#E0E0E0")]:
        layout["shapes"].append(dict(type="rect", xref=xr, yref=f"{yr} domain", x0=max(a, lo_h),
                                     x1=min(b, hi_h), y0=0, y1=1, fillcolor=col, line=dict(width=0),
                                     layer="below"))

# axis titles
for j, p in enumerate(PARAMS):
    cx = (COL_EDGES[j] + COL_EDGES[j + 1]) / 2
    layout["annotations"].append(dict(text=XTITLES[p], xref="paper", yref="paper", x=cx / W, y=1 - 1887 / H,
                                      showarrow=False, font=dict(family=SANS, size=25, color="black"),
                                      xanchor="center", yanchor="middle"))
YTITLE_X = {"om": 27, "s8": 35, "f": 36, "lz": 43, "th": 43}
for i, p in enumerate(PARAMS):
    if i == 0:
        continue
    cy = (ROW_EDGES[i] + ROW_EDGES[i + 1]) / 2
    layout["annotations"].append(dict(text=XTITLES[p], xref="paper", yref="paper", x=YTITLE_X[p] / W,
                                      y=1 - cy / H, showarrow=False, textangle=-90,
                                      font=dict(family=SANS, size=25, color="black"),
                                      xanchor="center", yanchor="middle"))

# legend (drawn manually to get large swatches)
for n, (label, (fc, lc)) in enumerate(zip(LEGEND_LABELS, LEGEND_SWATCH)):
    cy = 42 + 56 * n
    layout["shapes"].append(dict(type="rect", xref="paper", yref="paper", x0=1339 / W, x1=1419 / W,
                                 y0=1 - (cy + 15) / H, y1=1 - (cy - 15) / H, fillcolor=fc,
                                 line=dict(color=lc, width=1), layer="above"))
    layout["annotations"].append(dict(text=label, xref="paper", yref="paper", x=1447 / W, y=1 - cy / H,
                                      showarrow=False, xanchor="left", yanchor="middle",
                                      font=dict(family=SANS, size=38, color="black")))

# highlighted result box
layout["shapes"].append(dict(type="rect", xref="paper", yref="paper", x0=999 / W, x1=1.3,
                             y0=1 - 904.5 / H, y1=1 - 324 / H, line=dict(color="#0273B9", width=13),
                             fillcolor="rgba(0,0,0,0)", layer="above"))


def box_text(txt, x, y, size):
    layout["annotations"].append(dict(text=txt, xref="paper", yref="paper", x=x / W, y=1 - y / H,
                                      showarrow=False, xanchor="left", yanchor="middle",
                                      font=dict(family=SERIF, size=size, color="black")))


box_text(BOX_F_LABEL, 1064, 418, 132)
box_text(BOX_F_VALUE, 1345, 410, 132)
box_text(BOX_H0, 1040, 645, 110)
box_text(BOX_H0_UP, 1557, 606, 78)
box_text(BOX_H0_DN, 1557, 684, 78)
box_text(BOX_H0_UNIT, 1780, 640, 110)
box_text(BOX_LINE3, 1126, 795, 100)

fig.update_layout(**layout)
fig.write_html("out.html")
